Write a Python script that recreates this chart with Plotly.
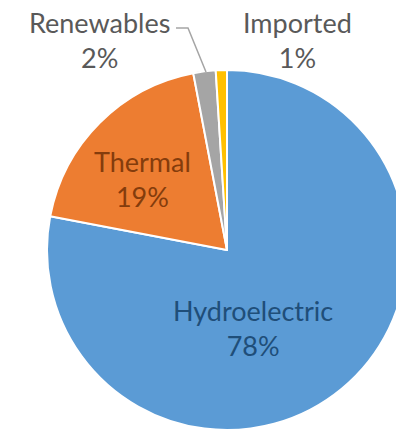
import plotly.graph_objects as go

# Electricity generation mix by source (share of total, %)
sources = ["Hydroelectric", "Thermal", "Renewables", "Imported"]
shares = [78, 19, 2, 1]
slice_colors = ["#5B9BD5", "#ED7D31", "#A5A5A5", "#FFC000"]
label_colors = ["#1F4E79", "#843C0C", "#595959", "#595959"]

W, H = 420, 433
FONT = "Lato"

fig = go.Figure(
    go.Pie(
        labels=sources,
        values=shares,
        sort=False,
        direction="clockwise",
        rotation=0,
        marker=dict(colors=slice_colors, line=dict(color="white", width=2)),
        textinfo="none",
        hoverinfo="label+percent",
        showlegend=False,
        domain=dict(x=[47 / W, 407 / W], y=[1 - 430 / H, 1 - 70 / H]),
    )
)

# label centre points (pixels from top-left) for each slice
label_pos = {
    "Hydroelectric": (253, 328),
    "Thermal": (142, 179),
    "Renewables": (99, 40),
    "Imported": (297, 40),
}

for name, val, col in zip(sources, shares, label_colors):
    x, y = label_pos[name]
    fig.add_annotation(
        x=x / W, y=1 - y / H, xref="paper", yref="paper",
        xanchor="center", yanchor="middle",
        text=f"{name}<br>{val}%",
        showarrow=False,
        font=dict(family=FONT, size=27, color=col),
        align="center",
    )

# leader line from the Renewables label to its slice
fig.add_shape(
    type="path",
    path=f"M {176/W} {1-28/H} L {188/W} {1-28/H} L {206/W} {1-72/H}",
    xref="paper", yref="paper",
    line=dict(color="#A5A5A5", width=1.5),
)

fig.update_layout(
    width=W, height=H, autosize=False,
    margin=dict(l=0, r=0, t=0, b=0),
    paper_bgcolor="white",
    plot_bgcolor="white",
)

fig.write_html(
    "out.html",
    post_script="document.documentElement.style.overflow='hidden';document.body.style.overflow='hidden';",
)
